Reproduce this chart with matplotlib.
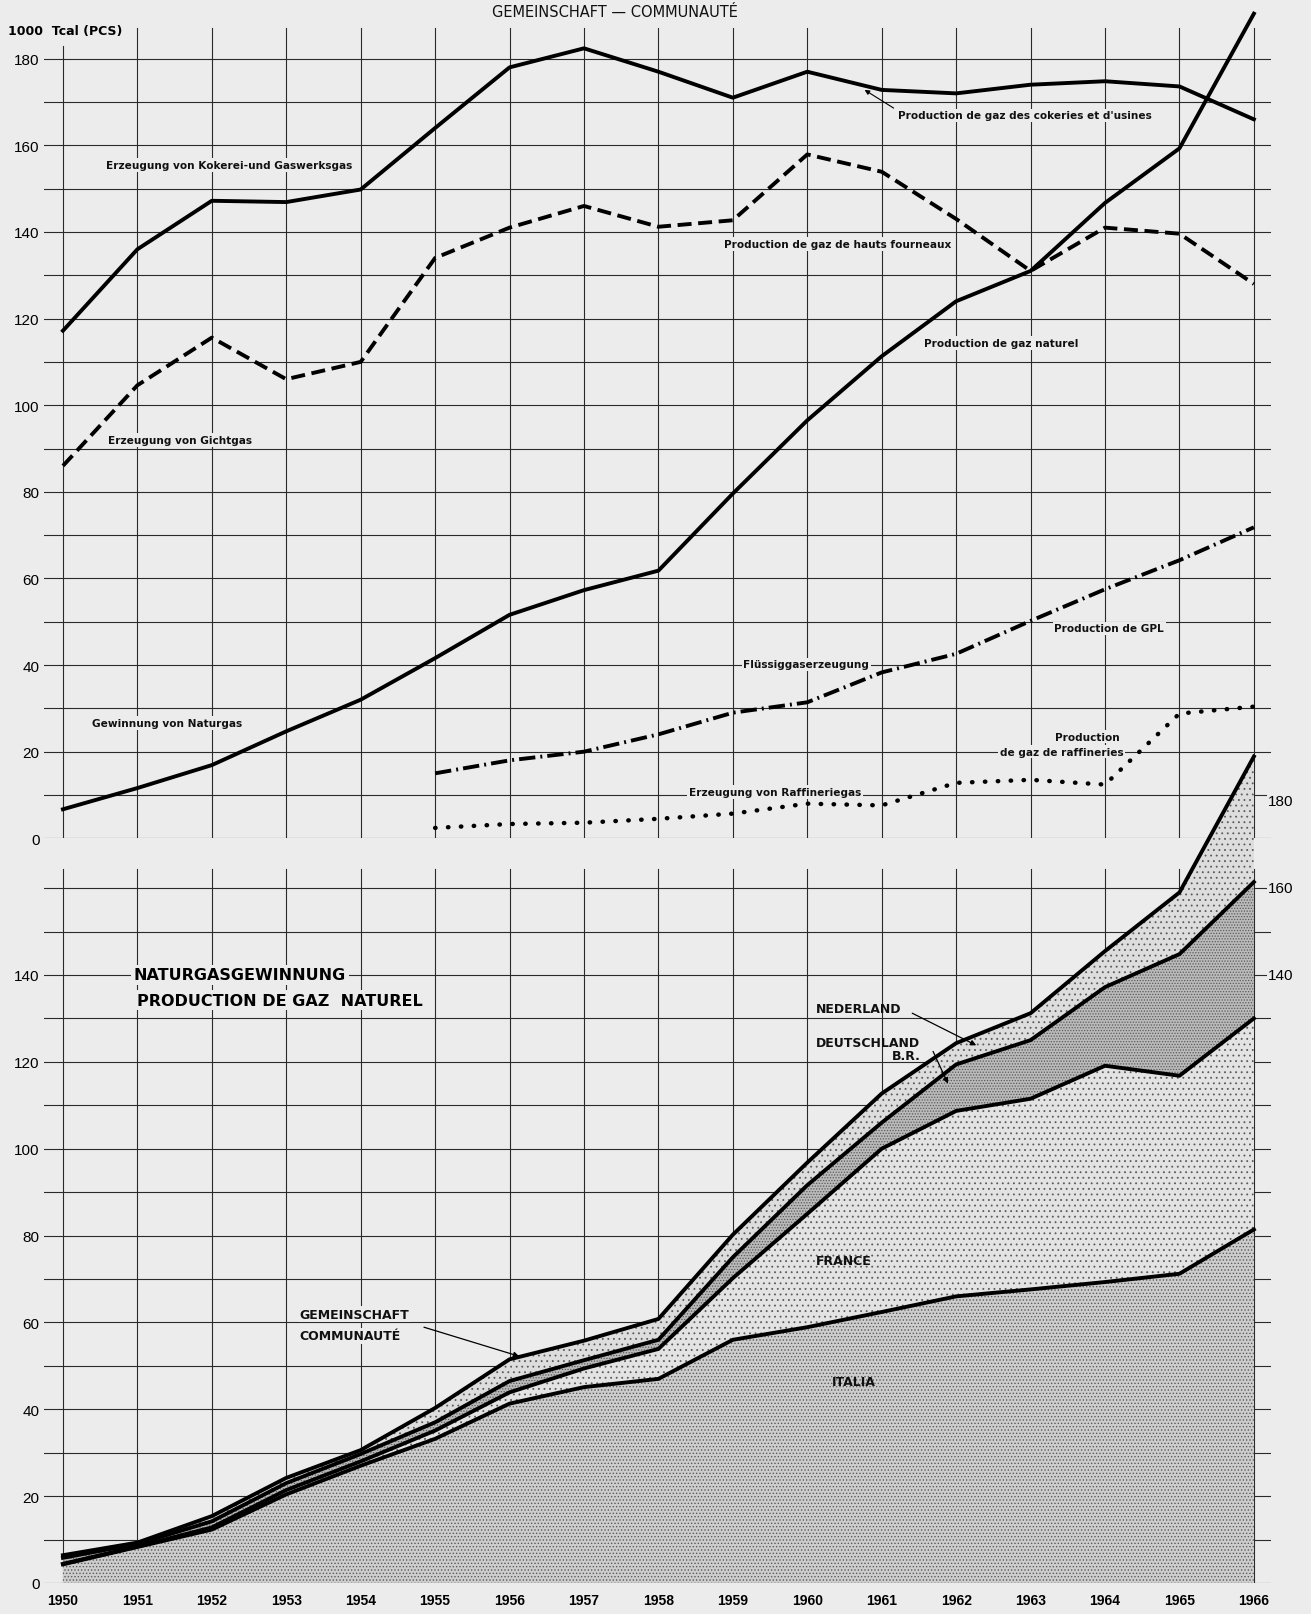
import numpy as np
import matplotlib
matplotlib.use('Agg')
from matplotlib import pyplot as plt

years = list(range(1950, 1967))
years_55 = years[5:]

# top panel, 1000 Tcal (PCS)
kokerei = [117.2, 136.0, 147.2, 146.9, 149.8, 164.0, 178.0, 182.4, 177.0,
           171.0, 177.0, 172.8, 172.0, 174.0, 174.8, 173.6, 166.0]
hochofen = [86.0, 104.6, 115.6, 106.0, 110.0, 134.0, 141.0, 146.0, 141.2,
            142.7, 157.9, 153.9, 143.0, 131.0, 141.0, 139.6, 128.0]
naturgas = [6.7, 11.6, 16.9, 24.7, 32.0, 41.6, 51.6, 57.3, 61.8,
            79.6, 96.5, 111.3, 124.0, 131.0, 146.7, 159.3, 190.4]
gpl = [15.0, 18.0, 20.0, 24.0, 29.0, 31.4, 38.3, 42.6, 50.2, 57.5, 64.2, 71.8]
raffinerie = [2.4, 3.3, 3.6, 4.5, 5.7, 8.0, 7.6, 12.8, 13.5, 12.4, 28.8, 30.4]

# bottom panel, natural gas by country (stacked)
italia = [4.3, 8.3, 12.3, 20.4, 27.0, 33.2, 41.3, 45.1, 47.0,
          56.0, 58.9, 62.4, 66.0, 67.6, 69.3, 71.2, 81.4]
france = [0.1, 0.1, 0.5, 1.0, 1.0, 1.9, 2.6, 4.3, 6.9,
          14.2, 26.1, 37.6, 42.7, 43.9, 49.8, 45.6, 48.6]
deutschland = [1.4, 0.6, 1.4, 1.6, 1.7, 1.9, 2.6, 1.9, 2.1,
               4.8, 6.6, 6.0, 10.7, 13.5, 18.1, 28.0, 31.4]
nederland = [0.6, 0.3, 1.2, 1.2, 0.9, 3.3, 5.0, 4.5, 4.8,
             5.2, 5.2, 6.7, 4.9, 6.2, 8.3, 14.2, 28.9]

top_ticks = list(range(0, 181, 20))
bot_ticks = list(range(0, 141, 20))
right_ticks = [140, 160, 180]

BG = '#ececec'
GRID = '#2a2a2a'
plt.rcParams['font.family'] = ['DejaVu Sans']
plt.rcParams['hatch.color'] = '#555555'
plt.rcParams['hatch.linewidth'] = 0.6

W, H = 1311, 1615
fig = plt.figure(figsize=(W / 100, H / 100), dpi=100, facecolor=BG)

x0, x1 = 1949.74, 1966.23
left = 43.6 / W
width = (1271 - 43.6) / W

# top axes: 0 at y=839.3 px, 4.331 px per unit
ax = fig.add_axes([left, (H - 839.3) / H, width, 191 * 4.331 / H])
# bottom axes: 0 at y=1584 px, 4.343 px per unit
bx = fig.add_axes([left, (H - 1584) / H, width, 193 * 4.343 / H])

for a, ymax in ((ax, 191), (bx, 193)):
    a.set_xlim(x0, x1)
    a.set_ylim(0, ymax)
    a.patch.set_alpha(0)
    for s in a.spines.values():
        s.set_visible(False)
    a.tick_params(length=0)

# grid, top panel
for v in range(0, 181, 10):
    ax.plot([x0, x1], [v, v], color=GRID, lw=0.8, zorder=1)
for yr in years:
    ax.plot([yr, yr], [0, 183 if yr == 1950 else 187], color=GRID, lw=0.8, zorder=1)

# grid, bottom panel
for v in range(0, 161, 10):
    bx.plot([x0, x1], [v, v], color=GRID, lw=0.8, zorder=1)
for yr in years:
    bx.plot([yr, yr], [0, 164.5], color=GRID, lw=0.8, zorder=1)

# top lines
lw = 2.8
ax.plot(years, kokerei, color='k', lw=lw, zorder=4, clip_on=False)
ax.plot(years, hochofen, color='k', lw=lw, zorder=4, dashes=(3.6, 1.7))
ax.plot(years, naturgas, color='k', lw=lw, zorder=4, clip_on=False)
ax.plot(years_55, gpl, color='k', lw=lw, zorder=4, dashes=(4.2, 1.3, 0.5, 1.3))
ax.plot(years_55, raffinerie, color='k', lw=3.2, zorder=4,
        linestyle=(0, (0.1, 2.8)), dash_capstyle='round')

tkw = dict(fontsize=7.6, fontweight='bold', color='#111111', va='center', zorder=3,
           bbox=dict(fc=BG, ec='none', pad=1.2))
ax.text(1950.58, 155.5, 'Erzeugung von Kokerei-und Gaswerksgas', **tkw)
ax.text(1961.22, 166.9, "Production de gaz des cokeries et d'usines", **tkw)
ax.text(1958.88, 137.2, 'Production de gaz de hauts fourneaux', **tkw)
ax.text(1961.57, 114.4, 'Production de gaz naturel', **tkw)
ax.text(1950.60, 92.0, 'Erzeugung von Gichtgas', **tkw)
ax.text(1963.32, 48.5, 'Production de GPL', **tkw)
ax.text(1959.14, 40.2, 'Flüssiggaserzeugung', **tkw)
ax.text(1950.39, 26.6, 'Gewinnung von Naturgas', **tkw)
ax.text(1963.76, 23.5, 'Production', ha='center', **tkw)
ax.text(1963.42, 20.0, 'de gaz de raffineries', ha='center', **tkw)
ax.text(1958.41, 10.7, 'Erzeugung von Raffineriegas', **tkw)
ax.annotate('', xy=(1960.77, 172.8), xytext=(1961.16, 168.6),
            arrowprops=dict(arrowstyle='-|>', lw=0.8, color='k', mutation_scale=7,
                            shrinkA=0, shrinkB=0))

ax.set_xticks([])
ax.set_yticks(top_ticks)
ax.set_yticklabels([str(t) for t in top_ticks], fontsize=11, family='Liberation Sans')
ax.tick_params(axis='y', pad=3)

# bottom stacked areas
polys = bx.stackplot(years, italia, france, deutschland, nederland,
                     colors=['#cdcdcd', '#e3e3e3', '#bababa', '#dddddd'],
                     lw=0, zorder=2)
for p, h in zip(polys, ['.....', '...', '......', '...']):
    p.set_hatch(h)
    p.set_edgecolor('#5a5a5a')
    p.set_linewidth(0)

cum = np.cumsum(np.array([italia, france, deutschland, nederland]), axis=0)
for row in cum:
    bx.plot(years, row, color='k', lw=2.8, zorder=4, clip_on=False)

bkw = dict(fontsize=9, fontweight='bold', color='#111111', va='center', zorder=5)
bx.text(1950.95, 140.0, 'NATURGASGEWINNUNG', fontsize=11.5, fontweight='bold',
        va='center', bbox=dict(fc=BG, ec='none', pad=2))
bx.text(1951.0, 134.2, 'PRODUCTION DE GAZ  NATUREL', fontsize=11.5, fontweight='bold',
        va='center', bbox=dict(fc=BG, ec='none', pad=2))
bx.text(1960.12, 132.3, 'NEDERLAND', **bkw)
bx.text(1960.11, 124.5, 'DEUTSCHLAND', **bkw)
bx.text(1961.13, 121.4, 'B.R.', **bkw)
bx.text(1960.12, 74.3, 'FRANCE', **bkw)
bx.text(1960.33, 46.3, 'ITALIA', **bkw)
bx.text(1953.18, 61.9, 'GEMEINSCHAFT', bbox=dict(fc=BG, ec='none', pad=1), **bkw)
bx.text(1953.18, 56.9, 'COMMUNAUTÉ', bbox=dict(fc=BG, ec='none', pad=1), **bkw)

akw = dict(arrowstyle='-|>', lw=0.9, color='k', mutation_scale=8, shrinkA=0, shrinkB=0)
bx.annotate('', xy=(1956.13, 52.2), xytext=(1954.85, 58.9), arrowprops=akw)
bx.annotate('', xy=(1962.27, 123.8), xytext=(1961.41, 131.2), arrowprops=akw)
bx.annotate('', xy=(1961.89, 115.0), xytext=(1961.69, 122.4), arrowprops=akw)

for t in right_ticks:
    bx.text(1966.19, t, str(t), fontsize=11, family='Liberation Sans', va='center',
            ha='left', zorder=6, bbox=dict(fc=BG, ec='none', pad=0.5))

bx.set_yticks(bot_ticks)
bx.set_yticklabels([str(t) for t in bot_ticks], fontsize=11, family='Liberation Sans')
bx.tick_params(axis='y', pad=3)
bx.set_xticks(years)
bx.set_xticklabels([str(y) for y in years], fontsize=10, fontweight='bold',
                   family='Liberation Sans')
bx.tick_params(axis='x', pad=7)

fig.text(0.469, 1 - 12.4 / H, 'GEMEINSCHAFT — COMMUNAUTÉ', fontsize=10.5,
         ha='center', va='center', color='#111111')
fig.text(8 / W, 1 - 31 / H, '1000  Tcal (PCS)', fontsize=9, fontweight='bold',
         ha='left', va='center')

fig.savefig('out.png', dpi=100, facecolor=fig.get_facecolor())
